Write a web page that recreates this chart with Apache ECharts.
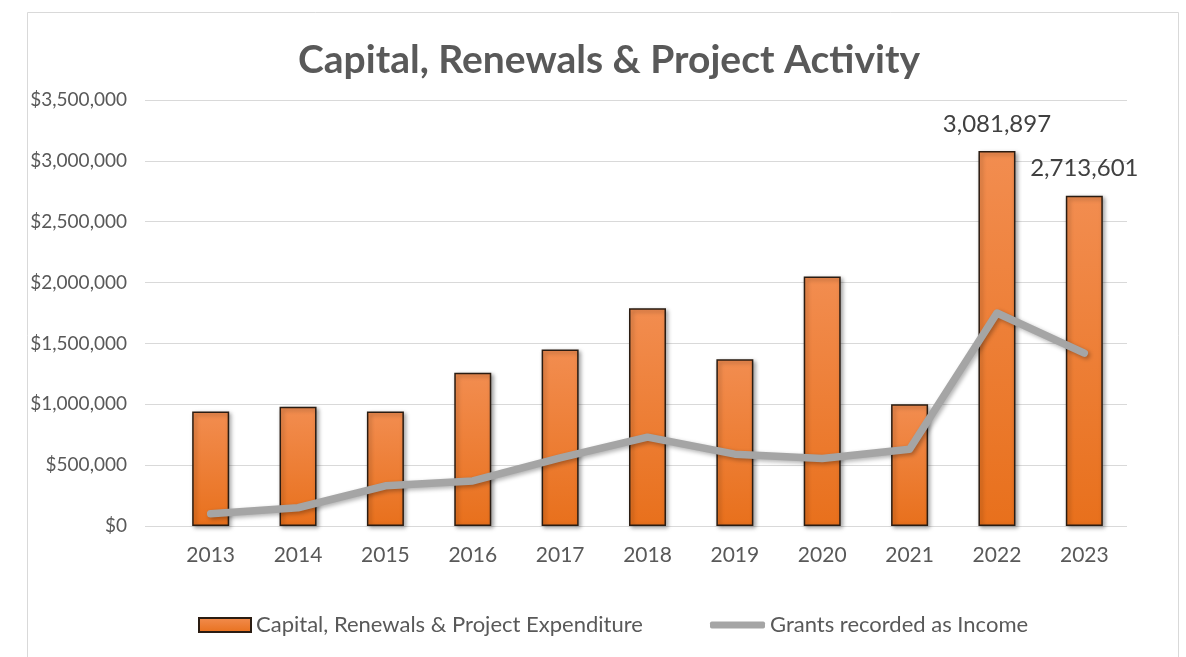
<!DOCTYPE html>
<html>
<head>
<meta charset="utf-8">
<script src="https://cdn.jsdelivr.net/npm/echarts@6/dist/echarts.min.js"></script>
<style>html,body{margin:0;padding:0;background:#fff;}#c{width:1186px;height:657px;}</style>
</head>
<body>
<div id="c"></div>
<script>
const years = ['2013','2014','2015','2016','2017','2018','2019','2020','2021','2022','2023'];
const expenditure = [940000, 980000, 940000, 1260000, 1450000, 1790000, 1370000, 2050000, 1000000, 3081897, 2713601];
const grants = [100000, 150000, 330000, 370000, 560000, 730000, 590000, 555000, 630000, 1750000, 1420000];
const labelledYears = ['2022', '2023'];
const yMax = 3500000;
const yStep = 500000;

const FONT = 'Lato';
const TXT = '#595959';

const chart = echarts.init(document.getElementById('c'));
chart.setOption({
  backgroundColor: '#ffffff',
  animation: false,
  graphic: [{
    type: 'rect', left: 25, top: 10, silent: true,
    shape: { width: 1151, height: 660 },
    style: { fill: 'none', stroke: '#d9d9d9', lineWidth: 1 }
  }],
  title: {
    text: 'Capital, Renewals & Project Activity',
    left: 604, top: 36, textAlign: 'center',
    textStyle: { fontFamily: FONT, fontSize: 39, fontWeight: 'bold', color: TXT }
  },
  legend: [
    {
      bottom: 16, left: 193,
      itemWidth: 52, itemHeight: 14,
      textStyle: { fontFamily: FONT, fontSize: 22, color: TXT },
      data: [{ name: 'Capital, Renewals & Project Expenditure', icon: 'rect' }]
    },
    {
      bottom: 16, left: 705,
      itemWidth: 55, itemHeight: 7,
      textStyle: { fontFamily: FONT, fontSize: 22, color: TXT },
      itemStyle: { color: '#A5A5A5' },
      data: [{ name: 'Grants recorded as Income', icon: 'roundRect' }]
    }
  ],
  grid: [
    { left: 145, right: 59, top: 100, bottom: 131 },
    { left: 167, right: 58, top: 100, bottom: 131 }
  ],
  xAxis: [
    { gridIndex: 0, type: 'category', data: years, show: false },
    {
      gridIndex: 1, type: 'category', data: years,
      axisLine: { show: false }, axisTick: { show: false },
      axisLabel: { fontFamily: FONT, fontSize: 21, color: TXT, margin: 19 }
    }
  ],
  yAxis: [
    {
      gridIndex: 0, type: 'value', min: 0, max: yMax, interval: yStep,
      axisLine: { show: false }, axisTick: { show: false },
      splitLine: { lineStyle: { color: '#d9d9d9', width: 1 } },
      axisLabel: {
        fontFamily: FONT, fontSize: 19, color: TXT, margin: 18,
        formatter: v => '$' + v.toLocaleString('en-US')
      }
    },
    {
      gridIndex: 1, type: 'value', min: 0, max: yMax, interval: yStep,
      show: false, splitLine: { show: false }
    }
  ],
  series: [
    {
      name: 'Capital, Renewals & Project Expenditure',
      type: 'bar', xAxisIndex: 1, yAxisIndex: 1,
      barWidth: 37,
      data: expenditure.map((v, i) => ({
        value: v,
        label: {
          show: labelledYears.includes(years[i]),
          position: 'top', distance: 15,
          fontFamily: FONT, fontSize: 24, color: '#404040',
          formatter: p => p.value.toLocaleString('en-US')
        }
      })),
      itemStyle: {
        color: new echarts.graphic.LinearGradient(0, 0, 0, 1, [
          { offset: 0, color: '#F28D50' },
          { offset: 1, color: '#E8701C' }
        ]),
        borderColor: '#2a1c12', borderWidth: 1.5,
        shadowColor: 'rgba(0,0,0,0.35)', shadowBlur: 4, shadowOffsetX: 2, shadowOffsetY: 2
      }
    },
    {
      name: 'Grants recorded as Income',
      type: 'line', xAxisIndex: 1, yAxisIndex: 1,
      data: grants,
      symbol: 'none',
      itemStyle: { color: '#A5A5A5' },
      lineStyle: {
        color: '#A5A5A5', width: 7.5, join: 'round', cap: 'round',
        shadowColor: 'rgba(0,0,0,0.3)', shadowBlur: 4, shadowOffsetX: 2, shadowOffsetY: 2
      },
      z: 5
    }
  ]
});
</script>
</body>
</html>
